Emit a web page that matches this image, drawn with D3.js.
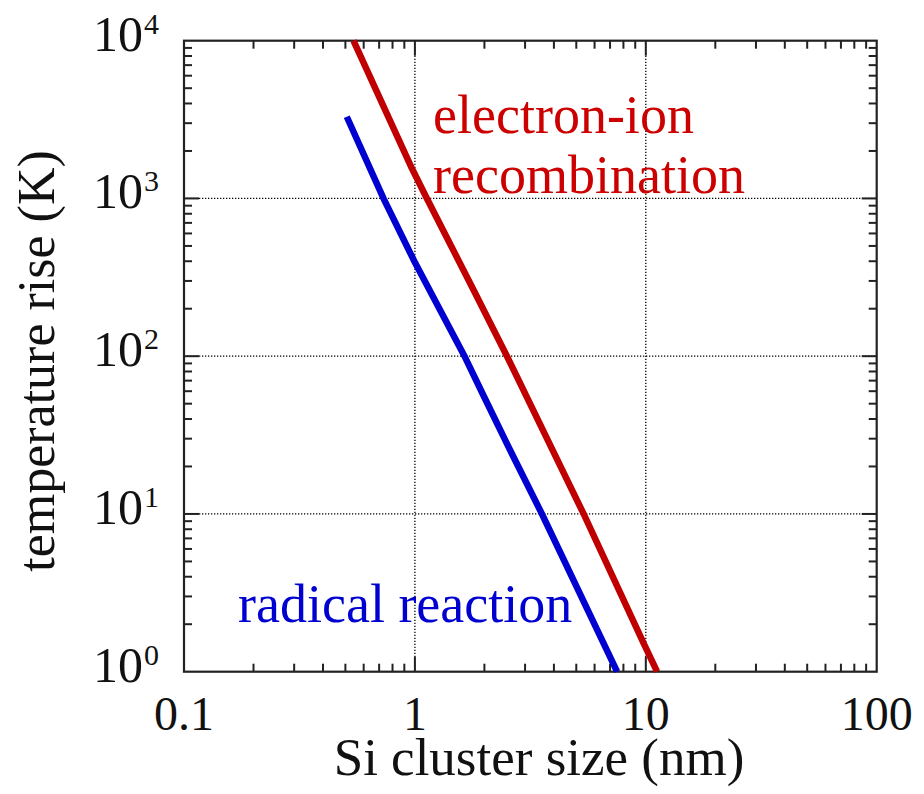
<!DOCTYPE html>
<html>
<head>
<meta charset="utf-8">
<script src="https://cdn.jsdelivr.net/npm/d3@7"></script>
<style>
  html, body { margin: 0; padding: 0; background: #fff; }
  svg { display: block; font-family: "Liberation Serif", "Times New Roman", serif; }
</style>
</head>
<body>
<div id="chart"></div>
<script>
// Temperature rise vs Si cluster size (log-log)

// data
const recombSize = [0.542, 0.97, 1.127, 1.795, 2.505, 5.38, 9.79, 11.19];
const recombTemp = [10000, 1553, 1000, 263, 100, 10, 1.51, 1];
const radicalSize = [0.507, 0.731, 0.993, 1.64, 1.96, 2.5, 3.55, 7.51];
const radicalTemp = [3297, 1000, 401, 100, 58.2, 28.0, 10, 1];

const xTicks = [0.1, 1, 10, 100];
const xTickLabels = ['0.1', '1', '10', '100'];
const yExponents = [0, 1, 2, 3, 4];

const W = 924, H = 794;
const margin = {top: 40.7, right: 47.3, bottom: 122.3, left: 184};
const width = W - margin.left - margin.right;
const height = H - margin.top - margin.bottom;

const svg = d3.select('#chart').append('svg')
  .attr('width', W)
  .attr('height', H);

const g = svg.append('g')
  .attr('transform', `translate(${margin.left},${margin.top})`);

const x = d3.scaleLog().domain([0.1, 100]).range([0, width]);
const y = d3.scaleLog().domain([1, 10000]).range([height, 0]);

// minor ticks (2..9 in each decade)
const minorX = [];
[0.1, 1, 10].forEach(d => { for (let k = 2; k <= 9; k++) minorX.push(d * k); });
const minorY = [];
[1, 10, 100, 1000].forEach(d => { for (let k = 2; k <= 9; k++) minorY.push(d * k); });

// grid
const gridX = xTicks.slice(1, -1);
const gridY = yExponents.slice(1, -1).map(e => Math.pow(10, e));
g.selectAll('.gx').data(gridX).enter().append('line')
  .attr('x1', d => x(d)).attr('x2', d => x(d))
  .attr('y1', 0).attr('y2', height)
  .attr('stroke', '#000').attr('stroke-width', 1.3).attr('stroke-dasharray', '1.3,1.7');
g.selectAll('.gy').data(gridY).enter().append('line')
  .attr('y1', d => y(d)).attr('y2', d => y(d))
  .attr('x1', 0).attr('x2', width)
  .attr('stroke', '#000').attr('stroke-width', 1.3).attr('stroke-dasharray', '1.3,1.7');

// ticks on all four sides, pointing inward
const tickStyle = sel => sel.attr('stroke', '#222').attr('stroke-width', 2);
const minorLen = 8, majorLen = 15;
[0, height].forEach((yy, i) => {
  const dir = i === 0 ? 1 : -1;
  g.append('g').selectAll('line').data(minorX).enter().append('line')
    .attr('x1', d => x(d)).attr('x2', d => x(d))
    .attr('y1', yy).attr('y2', yy + dir * minorLen).call(tickStyle);
  g.append('g').selectAll('line').data(gridX).enter().append('line')
    .attr('x1', d => x(d)).attr('x2', d => x(d))
    .attr('y1', yy).attr('y2', yy + dir * majorLen).call(tickStyle);
});
[0, width].forEach((xx, i) => {
  const dir = i === 0 ? 1 : -1;
  g.append('g').selectAll('line').data(minorY).enter().append('line')
    .attr('y1', d => y(d)).attr('y2', d => y(d))
    .attr('x1', xx).attr('x2', xx + dir * minorLen).call(tickStyle);
  g.append('g').selectAll('line').data(gridY).enter().append('line')
    .attr('y1', d => y(d)).attr('y2', d => y(d))
    .attr('x1', xx).attr('x2', xx + dir * majorLen).call(tickStyle);
});

// frame
g.append('rect')
  .attr('width', width).attr('height', height)
  .attr('fill', 'none').attr('stroke', '#222').attr('stroke-width', 2.2);

// curves
const line = d3.line().x(d => x(d[0])).y(d => y(d[1]));
const recomb = recombSize.map((s, i) => [s, recombTemp[i]]);
const radical = radicalSize.map((s, i) => [s, radicalTemp[i]]);

g.append('path').datum(recomb)
  .attr('d', line).attr('fill', 'none')
  .attr('stroke', '#c00000').attr('stroke-width', 6.5);
g.append('path').datum(radical)
  .attr('d', line).attr('fill', 'none')
  .attr('stroke', '#0000d0').attr('stroke-width', 6.5);

// x tick labels
g.selectAll('.xl').data(xTicks).enter().append('text')
  .attr('x', d => x(d)).attr('y', height + 58)
  .attr('text-anchor', 'middle')
  .style('font-size', '48px').attr('fill', '#111')
  .text((d, i) => xTickLabels[i]);

// y tick labels: 10^n
const yl = g.selectAll('.yl').data(yExponents).enter().append('g')
  .attr('transform', d => `translate(0,${y(Math.pow(10, d))})`);
yl.append('text')
  .attr('x', -41).attr('y', 10)
  .attr('text-anchor', 'end')
  .style('font-size', '50px').attr('fill', '#111')
  .text('10');
yl.append('text')
  .attr('x', -40).attr('y', -7)
  .style('font-size', '30px').attr('fill', '#111')
  .text(d => d);

// axis titles
svg.append('text')
  .attr('x', 539).attr('y', 775)
  .attr('text-anchor', 'middle')
  .style('font-size', '53px').attr('fill', '#111')
  .text('Si cluster size (nm)');
svg.append('text')
  .attr('transform', 'translate(54,361) rotate(-90)')
  .attr('text-anchor', 'middle')
  .style('font-size', '52px').attr('fill', '#111')
  .text('temperature rise (K)');

// annotations
svg.append('text')
  .attr('x', 433).attr('y', 133)
  .style('font-size', '54px').attr('fill', '#cc0000')
  .text('electron-ion');
svg.append('text')
  .attr('x', 433).attr('y', 193)
  .style('font-size', '54px').attr('fill', '#cc0000')
  .text('recombination');
svg.append('text')
  .attr('x', 238).attr('y', 622)
  .style('font-size', '54px').attr('fill', '#0000d0')
  .text('radical reaction');
</script>
</body>
</html>
